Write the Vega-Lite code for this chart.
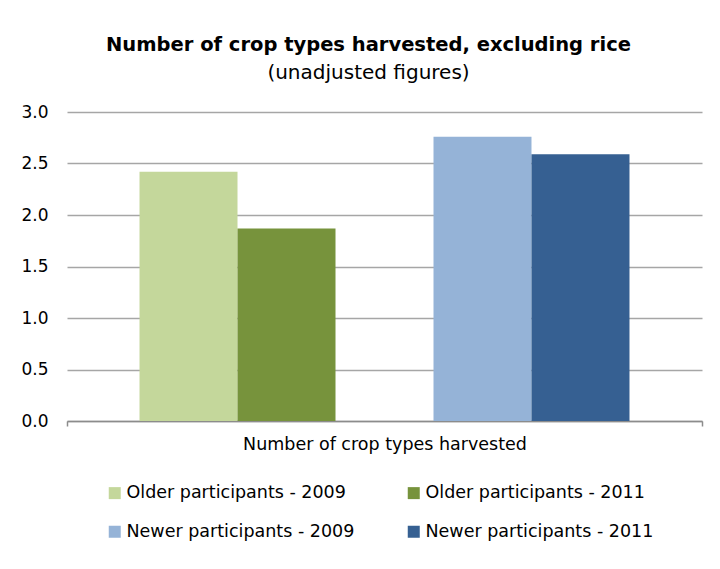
{
  "$schema": "https://vega.github.io/schema/vega-lite/v6.json",
  "autosize": "none",
  "width": 635,
  "height": 309,
  "padding": {"left": 67, "top": 112, "right": 18, "bottom": 148},
  "background": "white",
  "title": {
    "text": "Number of crop types harvested, excluding rice",
    "subtitle": "(unadjusted figures)",
    "anchor": "middle",
    "frame": "group",
    "dx": -16,
    "offset": 19,
    "font": "DejaVu Sans",
    "fontSize": 19.5,
    "fontWeight": "bold",
    "color": "#000000",
    "subtitleFont": "DejaVu Sans",
    "subtitleFontSize": 20,
    "subtitleColor": "#000000",
    "subtitlePadding": 8
  },
  "data": {
    "values": [
      {"measure": "Number of crop types harvested", "series": "Older participants - 2009", "value": 2.42},
      {"measure": "Number of crop types harvested", "series": "Older participants - 2011", "value": 1.87},
      {"measure": "Number of crop types harvested", "series": "Newer participants - 2009", "value": 2.76},
      {"measure": "Number of crop types harvested", "series": "Newer participants - 2011", "value": 2.59}
    ]
  },
  "mark": {"type": "bar"},
  "encoding": {
    "x": {
      "field": "measure",
      "type": "nominal",
      "title": null,
      "scale": {"paddingInner": 0, "paddingOuter": 0},
      "axis": {
        "labelAngle": 0,
        "labelLimit": 0,
        "labelFont": "DejaVu Sans",
        "labelFontSize": 17.5,
        "labelColor": "#000000",
        "labelPadding": 9,
        "domainColor": "#8c8c8c",
        "domainWidth": 1.5,
        "tickColor": "#8c8c8c",
        "tickWidth": 1.5,
        "tickSize": 5,
        "tickBand": "extent"
      }
    },
    "xOffset": {
      "field": "series",
      "type": "nominal",
      "scale": {
        "domain": ["Older participants - 2009", "Older participants - 2011", "gap", "Newer participants - 2009", "Newer participants - 2011"],
        "paddingInner": 0,
        "paddingOuter": 0.74
      }
    },
    "y": {
      "field": "value",
      "type": "quantitative",
      "title": null,
      "scale": {"domain": [0, 3], "nice": false},
      "axis": {
        "values": [0, 0.5, 1, 1.5, 2, 2.5, 3],
        "format": ".1f",
        "domain": false,
        "ticks": false,
        "labelPadding": 19,
        "labelFont": "DejaVu Sans",
        "labelFontSize": 17,
        "labelColor": "#000000",
        "gridColor": "#a6a6a6",
        "gridWidth": 1.5
      }
    },
    "color": {
      "field": "series",
      "type": "nominal",
      "scale": {
        "domain": ["Older participants - 2009", "Older participants - 2011", "Newer participants - 2009", "Newer participants - 2011"],
        "range": ["#c4d79b", "#77933c", "#95b3d7", "#366092"]
      },
      "legend": {
        "title": null,
        "orient": "none",
        "legendX": 39,
        "legendY": 372,
        "direction": "horizontal",
        "columns": 2,
        "gridAlign": "each",
        "columnPadding": 50,
        "rowPadding": 20,
        "symbolType": "square",
        "symbolSize": 144,
        "symbolStrokeWidth": 0,
        "symbolOpacity": 1,
        "labelOffset": 3,
        "labelFont": "DejaVu Sans",
        "labelFontSize": 17.5,
        "labelColor": "#000000",
        "labelLimit": 400
      }
    }
  },
  "config": {
    "view": {"stroke": null}
  }
}
